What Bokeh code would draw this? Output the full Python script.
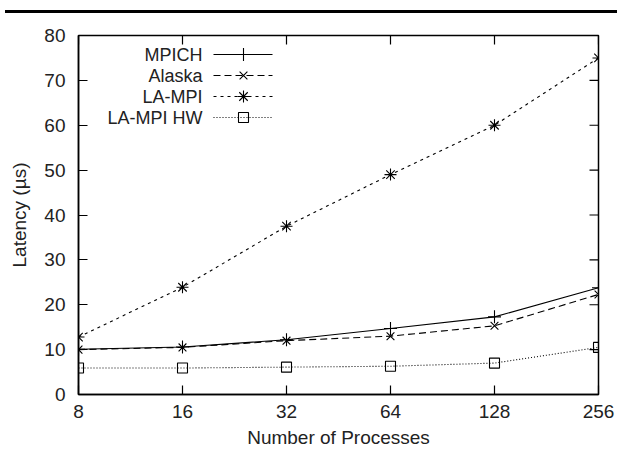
from bokeh.plotting import figure
from bokeh.models import FixedTicker, Div, NumeralTickFormatter
from bokeh.layouts import column
from bokeh.core.properties import value
from bokeh.embed import file_html
from bokeh.resources import INLINE
import math

# ---- data ----
processes = [8, 16, 32, 64, 128, 256]
mpich = [10.1, 10.6, 12.2, 14.7, 17.3, 23.8]
alaska = [10.0, 10.5, 12.0, 13.0, 15.3, 22.3]
lampi = [12.8, 23.9, 37.5, 49.0, 60.0, 75.0]
lampi_hw = [5.9, 5.9, 6.1, 6.3, 7.0, 10.5]
series_names = ["MPICH", "Alaska", "LA-MPI", "LA-MPI HW"]
y_ticks = [0, 10, 20, 30, 40, 50, 60, 70, 80]

FONT = "Liberation Sans"
TXT = "#222222"

# ---- frame geometry (pixels) ----
FIG_W, FIG_H = 617, 440
B_LEFT, B_RIGHT, B_TOP, B_BOTTOM = 78, 19, 21, 60
FRAME_W = FIG_W - B_LEFT - B_RIGHT
FRAME_H = FIG_H - B_TOP - B_BOTTOM
X0, X1, Y0, Y1 = 8, 256, 0, 80
TICK = 9


def px_to_x(px):
    # px measured from frame left
    return 2 ** (math.log2(X0) + px / FRAME_W * (math.log2(X1) - math.log2(X0)))


def py_to_y(py):
    # py measured from frame top
    return Y1 - py / FRAME_H * (Y1 - Y0)


p = figure(width=FIG_W, height=FIG_H, x_axis_type="log",
           x_range=(X0, X1), y_range=(Y0, Y1),
           output_backend="svg", toolbar_location=None,
           min_border_left=B_LEFT, min_border_right=B_RIGHT,
           min_border_top=B_TOP, min_border_bottom=B_BOTTOM,
           background_fill_color="white", border_fill_color="white")
p.grid.visible = False
p.outline_line_color = "black"
p.outline_line_width = 1.5

xax = p.xaxis[0]
yax = p.yaxis[0]
xax.ticker = FixedTicker(ticks=processes)
xax.formatter = NumeralTickFormatter(format="0")
xax.axis_label = "Number of Processes"
xax.major_label_standoff = 10
xax.axis_label_standoff = 6
yax.ticker = FixedTicker(ticks=y_ticks)
yax.axis_label = "Latency (µs)"
yax.major_label_standoff = 13
yax.axis_label_standoff = 11

for ax in [xax, yax]:
    ax.major_tick_in = TICK
    ax.major_tick_out = 0
    ax.minor_tick_in = 0
    ax.minor_tick_out = 0
    ax.axis_line_color = "black"
    ax.axis_line_width = 1.5
    ax.major_tick_line_color = "black"
    ax.major_tick_line_width = 1.2
    ax.major_label_text_font = FONT
    ax.major_label_text_font_size = "19px"
    ax.major_label_text_color = TXT
    ax.axis_label_text_font = FONT
    ax.axis_label_text_font_size = "19px"
    ax.axis_label_text_font_style = "normal"
    ax.axis_label_text_color = TXT

# mirrored inward ticks on top and right edges (gnuplot style)
p.segment(x0=processes, y0=[Y1] * len(processes),
          x1=processes, y1=[py_to_y(TICK)] * len(processes),
          line_color="black", line_width=1.2)
p.segment(x0=[X1] * len(y_ticks), y0=y_ticks,
          x1=[px_to_x(FRAME_W - TICK)] * len(y_ticks), y1=y_ticks,
          line_color="black", line_width=1.2)

styles = [
    dict(data=mpich, dash="solid", marker="cross", size=13),
    dict(data=alaska, dash="7 4", marker="x", size=11),
    dict(data=lampi, dash="3 4", marker="asterisk", size=12),
    dict(data=lampi_hw, dash="1 2", marker="square", size=10),
]

for st in styles:
    p.line(processes, st["data"], line_color="black", line_width=1.1,
           line_dash=st["dash"])
    p.scatter(processes, st["data"], marker=st["marker"], size=st["size"],
              line_color="black", fill_color=None, line_width=1.1)

# ---- legend (text left, sample right, gnuplot style) ----
leg_rows_py = [19, 40, 61, 82]
text_right_px = 124
seg_l_px, seg_r_px, mark_px = 135, 194, 165
for name, st, py in zip(series_names, styles, leg_rows_py):
    yy = py_to_y(py)
    p.text(x=[px_to_x(text_right_px)], y=[yy], text=[name],
           text_font=value(FONT), text_font_size="18px", text_color=TXT,
           text_align="right", text_baseline="middle")
    p.line([px_to_x(seg_l_px), px_to_x(seg_r_px)], [yy, yy], line_color="black",
           line_width=1.1, line_dash=st["dash"])
    p.scatter([px_to_x(mark_px)], [yy], marker=st["marker"], size=st["size"],
              line_color="black", fill_color=None, line_width=1.1)

rule = Div(text='<div style="position:absolute;left:5px;top:10px;width:612px;height:3px;background:#000"></div>',
           width=617, height=14, margin=0)
p.margin = 0
layout = column(rule, p, spacing=0, margin=0)

open("out.html", "w").write(file_html(layout, INLINE))
